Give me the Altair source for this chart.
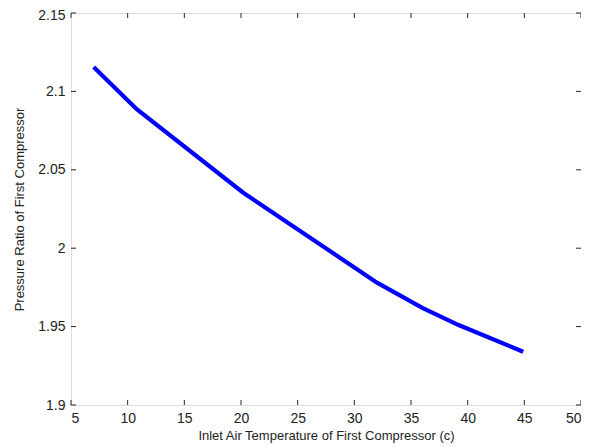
import altair as alt
import pandas as pd

temps = [7, 10.8, 20.2, 32, 36, 39.2, 44.9]
ratios = [2.1156, 2.0886, 2.0354, 1.978, 1.962, 1.951, 1.934]
x_ticks = [5, 10, 15, 20, 25, 30, 35, 40, 45, 50]
y_ticks = [1.9, 1.95, 2.0, 2.05, 2.1, 2.15]

W, H = 510, 392
FONT = "Liberation Sans"
TXT = "#222222"

df = pd.DataFrame({"t": temps, "r": ratios})
xt = pd.DataFrame({"v": x_ticks})
yt = pd.DataFrame({"v": y_ticks})

xs = alt.Scale(domain=[5, 50], nice=False, zero=False)
ys = alt.Scale(domain=[1.9, 2.15], nice=False, zero=False)

line = alt.Chart(df).mark_line(color="#0000FF", strokeWidth=4.2, strokeCap="butt").encode(
    x=alt.X("t:Q", scale=xs, axis=alt.Axis(
        title="Inlet Air Temperature of First Compressor (c)", values=x_ticks,
        format="~f", domain=False, ticks=False, grid=False, labelPadding=6,
        labelFontSize=14, labelColor=TXT, labelFont=FONT,
        titleFont=FONT, titleFontSize=13, titleColor=TXT, titleFontWeight="normal",
        titlePadding=4)),
    y=alt.Y("r:Q", scale=ys, axis=alt.Axis(
        title="Pressure Ratio of First Compressor", values=y_ticks,
        format=".2~f", domain=False, ticks=False, grid=False, labelPadding=6,
        labelOffset={"condition": {"test": "datum.value > 2.14", "value": 2}, "value": 0},
        labelFontSize=14, labelColor=TXT, labelFont=FONT,
        titleFont=FONT, titleFontSize=13, titleColor=TXT, titleFontWeight="normal",
        titlePadding=11)),
)

tick_style = dict(color="#262626", strokeWidth=1)
xb = alt.Chart(xt).mark_rule(**tick_style).encode(
    x=alt.X("v:Q", scale=xs), y=alt.value(H), y2=alt.value(H - 5))
xtop = alt.Chart(xt).mark_rule(**tick_style).encode(
    x=alt.X("v:Q", scale=xs), y=alt.value(0), y2=alt.value(5))
yl = alt.Chart(yt).mark_rule(**tick_style).encode(
    y=alt.Y("v:Q", scale=ys), x=alt.value(0), x2=alt.value(5))
yr = alt.Chart(yt).mark_rule(**tick_style).encode(
    y=alt.Y("v:Q", scale=ys), x=alt.value(W), x2=alt.value(W - 5))

chart = alt.layer(line, xb, xtop, yl, yr).properties(
    width=W, height=H,
    autosize=alt.AutoSizeParams(type="none"),
    padding={"left": 63, "top": 5, "right": 0, "bottom": 40},
).configure_view(stroke="#262626", strokeWidth=1).configure(background="white")

chart.save("out.html", embed_options={"renderer": "svg", "actions": False})
